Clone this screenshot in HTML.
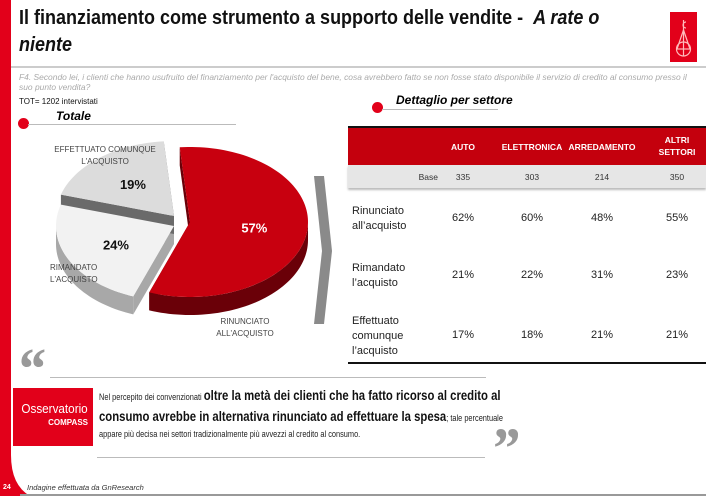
<!DOCTYPE html>
<html><head><meta charset="utf-8">
<style>
*{margin:0;padding:0;box-sizing:border-box}
body{width:706px;height:496px;overflow:hidden;background:#fff;font-family:"Liberation Sans",sans-serif;position:relative}
.abs{position:absolute}
.nw{white-space:nowrap;transform-origin:0 0}
</style></head><body>
<div class="abs" style="left:0;top:0;width:11px;height:496px;background:#e2001a"></div>
<svg class="abs" style="left:0;top:440px" width="40" height="56"><path d="M0 0 H11 V15 Q11 45 30 56 H0 Z" fill="#e2001a"/></svg>
<div class="abs nw" style="left:19px;top:5px;font-size:20px;font-weight:bold;line-height:27px;color:#111;transform:scaleX(0.9)">Il finanziamento come strumento a supporto delle vendite - &nbsp;<i>A rate o</i><br><i>niente</i></div>
<div class="abs" style="left:670px;top:12px;width:27px;height:50px;background:#e2001a">
<svg width="27" height="50"><g stroke="#fbb" fill="none" stroke-width="1.2"><circle cx="13.5" cy="37" r="7"/><line x1="6.5" y1="37" x2="20.5" y2="37"/><line x1="13.5" y1="8" x2="13.5" y2="44"/><line x1="13.5" y1="18" x2="7" y2="37"/><line x1="13.5" y1="18" x2="20" y2="37"/><path d="M16 10 A3 3 0 1 0 16 16"/></g></svg></div>
<div class="abs" style="left:11px;top:66px;width:695px;height:2px;background:#ccc"></div>
<div class="abs nw" style="left:19px;top:73px;font-size:8.2px;font-style:italic;color:#aaa;line-height:10px;transform:scaleX(1.03)">F4. Secondo lei, i clienti che hanno usufruito del finanziamento per l'acquisto del bene, cosa avrebbero fatto se non fosse stato disponibile il servizio di credito al consumo presso il<br>suo punto vendita?</div>
<div class="abs" style="left:19px;top:97px;font-size:8px;color:#111">TOT= 1202 intervistati</div>
<div class="abs" style="left:18px;top:118px;width:11px;height:11px;border-radius:50%;background:#e2001a"></div>
<div class="abs" style="left:28px;top:124px;width:208px;height:1px;background:#bbb"></div>
<div class="abs" style="left:56px;top:109px;font-size:12px;font-weight:bold;font-style:italic">Totale</div>
<div class="abs" style="left:372px;top:102px;width:11px;height:11px;border-radius:50%;background:#e2001a"></div>
<div class="abs" style="left:382px;top:109px;width:116px;height:1px;background:#bbb"></div>
<div class="abs" style="left:396px;top:93px;font-size:12px;font-weight:bold;font-style:italic">Dettaglio per settore</div>

<svg class="abs" id="pie" style="left:0;top:130px" width="345" height="230"></svg>

<svg class="abs" style="left:312px;top:176px" width="22" height="150"><path d="M2 0 L12 0 L20 75 L12 148 L2 148 L10 75 Z" fill="#8a8a8a"/></svg>

<div class="abs" id="tbl" style="left:348px;top:126px;width:358px;height:238px"></div>

<div class="abs" style="left:16px;top:340px;font-size:58px;font-weight:bold;font-style:italic;color:#999;font-family:'Liberation Serif',serif;line-height:58px">“</div>
<div class="abs" style="left:50px;top:377px;width:436px;height:1px;background:#bbb"></div>
<div class="abs" style="left:13px;top:388px;width:80px;height:58px;background:#e2001a;color:#fff;text-align:right;padding:12px 5px 0 0">
<div class="nw" style="font-size:13px;line-height:15px;display:inline-block;transform:scaleX(0.9);transform-origin:100% 0">Osservatorio</div><div style="font-size:8px;font-weight:bold">COMPASS</div></div>
<div class="abs nw" style="left:99px;top:386px;font-size:8.8px;line-height:20px;color:#222;transform:scaleX(0.84)">Nel percepito dei convenzionati <b style="font-size:13.5px;color:#111">oltre la metà dei clienti che ha fatto ricorso al credito al</b><br><b style="font-size:13.5px;color:#111">consumo avrebbe in alternativa rinunciato ad effettuare la spesa</b>; tale percentuale<br><span style="position:relative;top:-4px">appare più decisa nei settori tradizionalmente più avvezzi al credito al consumo.</span></div>
<div class="abs" style="left:490px;top:420px;font-size:58px;font-weight:bold;font-style:italic;color:#999;font-family:'Liberation Serif',serif;line-height:58px">”</div>
<div class="abs" style="left:97px;top:457px;width:388px;height:1px;background:#bbb"></div>
<div class="abs" style="left:3px;top:484px;font-size:7px;font-weight:bold;color:#fff">24</div>
<div class="abs" style="left:27px;top:483px;font-size:7.5px;font-style:italic;color:#333">Indagine effettuata da GnResearch</div>
<div class="abs" style="left:20px;top:494px;width:686px;height:2px;background:#999"></div>

<script>
const pieLabels=["RINUNCIATO ALL'ACQUISTO","RIMANDATO L'ACQUISTO","EFFETTUATO COMUNQUE L'ACQUISTO"];
const pieValues=[57,24,19];
const sectors=["AUTO","ELETTRONICA","ARREDAMENTO","ALTRI SETTORI"];
const bases=[335,303,214,350];
const rowLabels=["Rinunciato all'acquisto","Rimandato l'acquisto","Effettuato comunque l'acquisto"];
const rowValues=[[62,60,48,55],[21,22,31,23],[17,18,21,21]];

(function(){
 const svg=document.getElementById('pie');const NS='http://www.w3.org/2000/svg';
 const cx=180,cy=92,rx=118,ry=75,depth=18;
 const tops=['#c8000f','#f2f2f2','#dcdcdc'],sides=['#6a0008','#a8a8a8','#6a6a6a'];
 const offs=[[10,0],[-6,4],[-6,-6]];
 const total=pieValues.reduce((a,b)=>a+b,0);
 let a0=-95;
 const P=(a,ox,oy,d)=>[cx+ox+rx*Math.cos(a*Math.PI/180),cy+oy+d+ry*Math.sin(a*Math.PI/180)];
 const names=['slice-rinunciato','slice-rimandato','slice-effettuato'];
 const slices=[];
 pieValues.forEach((v,i)=>{const a1=a0+v/total*360;slices.push([a0,a1]);a0=a1;});
 slices.forEach(([s,e],i)=>{
  const [ox,oy]=offs[i];const g=document.createElementNS(NS,'g');
  const ss=Math.max(s,0),ee=Math.min(e,180);
  let d='';
  if(ee>ss){let p=[];for(let a=ss;a<=ee;a+=2)p.push(P(a,ox,oy,0));p.push(P(ee,ox,oy,0));
   let q=[];for(let a=ee;a>=ss;a-=2)q.push(P(a,ox,oy,depth));q.push(P(ss,ox,oy,depth));
   d='M'+p.concat(q).map(x=>x.join(',')).join('L')+'Z';}
  [s,e].forEach(a=>{const p=P(a,ox,oy,0),q=P(a,ox,oy,depth);
   const w=document.createElementNS(NS,'path');
   w.setAttribute('d',`M${cx+ox},${cy+oy}L${p}L${q}L${cx+ox},${cy+oy+depth}Z`);
   w.setAttribute('fill',sides[i]);g.appendChild(w);});
  if(d){const w=document.createElementNS(NS,'path');w.setAttribute('d',d);w.setAttribute('fill',sides[i]);g.appendChild(w);}
  
  
  svg.appendChild(g);
 });
 slices.forEach(([s,e],i)=>{
  const [ox,oy]=offs[i];let p=[[cx+ox,cy+oy]];
  for(let a=s;a<=e;a+=2)p.push(P(a,ox,oy,0));p.push(P(e,ox,oy,0));
  const el=document.createElementNS(NS,'path');
  el.setAttribute('d','M'+p.map(x=>x.join(',')).join('L')+'Z');
  el.setAttribute('fill',tops[i]);
  
  
  svg.appendChild(el);
  const m=(s+e)/2;const t=document.createElementNS(NS,'text');
  const lp=[cx+ox+rx*0.55*Math.cos(m*Math.PI/180),cy+oy+ry*0.55*Math.sin(m*Math.PI/180)+5];
  t.setAttribute('x',lp[0]);t.setAttribute('y',lp[1]);t.setAttribute('text-anchor','middle');
  t.setAttribute('font-size','13');t.setAttribute('font-weight','bold');
  t.setAttribute('fill',i==0?'#fff':'#111');t.textContent=pieValues[i]+'%';
  
  
  svg.appendChild(t);
 });
 const lbl=[[[245,194],[245,206]],[[50,140],[50,152]],[[105,22],[105,34]]];
 const txt=[["RINUNCIATO","ALL'ACQUISTO"],["RIMANDATO","L'ACQUISTO"],["EFFETTUATO COMUNQUE","L'ACQUISTO"]];
 txt.forEach((ls,i)=>ls.forEach((s,j)=>{const t=document.createElementNS(NS,'text');
  t.setAttribute('x',lbl[i][j][0]);t.setAttribute('y',lbl[i][j][1]);t.setAttribute('font-size','8');
  t.setAttribute('fill','#444');if(i!=1)t.setAttribute('text-anchor','middle');t.textContent=s;
  
  
  svg.appendChild(t);}));
})();

(function(){
 const T=document.getElementById('tbl');
 const colX=[115,184,254,329];
 const add=(html,css,name)=>{const d=document.createElement('div');d.style.cssText='position:absolute;'+css;d.innerHTML=html;
  
  
  T.appendChild(d);return d;};
 add('','left:0;top:0;width:358px;height:2px;background:#111','table-top-rule');
 add('','left:0;top:2px;width:358px;height:37px;background:#c4000d','table-header-bg');
 add('','left:0;top:39px;width:358px;height:23px;background:#e6e6e6;box-shadow:0 2px 2px #bbb','base-row-bg');
 sectors.forEach((s,i)=>{
  add(s.replace(' ','<br>'),`left:${colX[i]-40}px;width:80px;top:${s.includes(' ')?8:15}px;text-align:center;color:#fff;font-weight:bold;font-size:8.5px;line-height:12px`,'column-header');
  add(String(bases[i]),`left:${colX[i]-30}px;width:60px;top:46px;text-align:center;font-size:8.5px;color:#333`,'base-value');
 });
 add('Base','left:40px;width:50px;top:46px;text-align:right;font-size:8.5px;color:#333','base-label');
 const rowY=[93,150,210];
 rowLabels.forEach((r,ri)=>{
  const words=ri==2?['Effettuato','comunque',"l’acquisto"]:r.replace("'",'’').split(' ');
  add(words.join('<br>'),`left:4px;top:${rowY[ri]-(words.length*15)/2}px;font-size:11px;line-height:15px;color:#222`,'row-label');
  rowValues[ri].forEach((v,ci)=>add(v+'%',`left:${colX[ci]-30}px;width:60px;top:${rowY[ri]-7}px;text-align:center;font-size:11px;color:#222`,'cell-value'));
 });
 add('','left:0;top:236px;width:358px;height:2px;background:#111','table-bottom-rule');
})();
</script>
</body></html>
